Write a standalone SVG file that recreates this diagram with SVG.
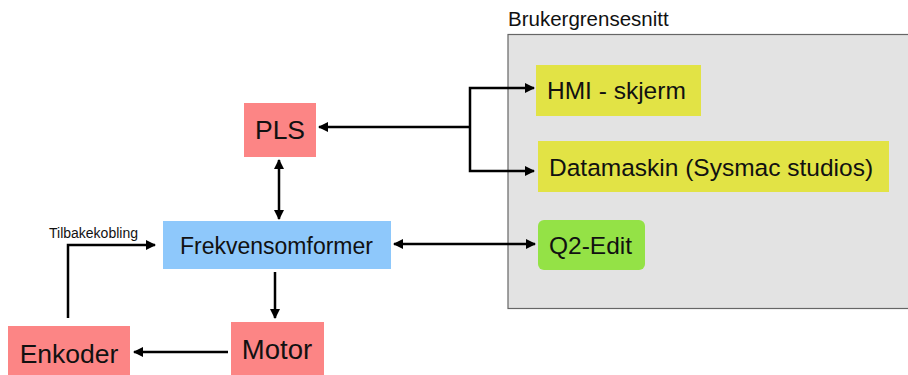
<svg xmlns="http://www.w3.org/2000/svg" width="908" height="375" viewBox="0 0 908 375">
  <style>
    text { font-family: "Liberation Sans", Arial, sans-serif; fill: #111; }
    .lbl { font-size: 24.5px; }
    .big { font-size: 26.5px; }
    .red { fill: #fc8585; }
    .yel { fill: #e2e345; }
    .line { stroke: #000; stroke-width: 2.5; fill: none; }
  </style>
  <defs>
    <marker id="arr" viewBox="0 0 10 10" refX="9" refY="5" markerWidth="4" markerHeight="4" orient="auto-start-reverse" markerUnits="strokeWidth">
      <path d="M0,0 L10,5 L0,10 Z" fill="#000"/>
    </marker>
  </defs>

  <!-- user interface panel -->
  <g id="ui-panel">
    <rect x="508" y="34.5" width="402" height="274" fill="#e3e3e3" stroke="#666" stroke-width="1.2"/>
    <text x="508" y="26" font-size="20.5">Brukergrensesnitt</text>
  </g>

  <g id="hmi">
    <rect class="yel" x="536" y="65" width="165" height="51"/>
    <text class="lbl" x="547" y="99">HMI - skjerm</text>
  </g>

  <g id="datamaskin">
    <rect class="yel" x="538" y="141" width="351" height="51"/>
    <text class="lbl" x="549" y="176">Datamaskin (Sysmac studios)</text>
  </g>

  <g id="q2edit">
    <rect x="538" y="220" width="107" height="50" rx="6" fill="#94e246"/>
    <text class="lbl" x="549" y="254">Q2-Edit</text>
  </g>

  <g id="pls">
    <rect class="red" x="244" y="103" width="72" height="54"/>
    <text class="big" x="280" y="139" text-anchor="middle">PLS</text>
  </g>

  <g id="frekvensomformer">
    <rect x="163" y="221" width="228" height="48" fill="#8ec8fb"/>
    <text x="180" y="254" font-size="23">Frekvensomformer</text>
  </g>

  <g id="motor">
    <rect class="red" x="231" y="322" width="93" height="55"/>
    <text x="277" y="359" font-size="27.5" text-anchor="middle">Motor</text>
  </g>

  <g id="enkoder">
    <rect class="red" x="8" y="326" width="122" height="51"/>
    <text class="big" x="69" y="363" text-anchor="middle">Enkoder</text>
  </g>

  <g id="connectors">
    <!-- UI branch to PLS -->
    <path class="line" d="M470,127 H319" marker-end="url(#arr)"/>
    <path class="line" d="M534,88 H470 V171 H534" marker-start="url(#arr)" marker-end="url(#arr)"/>
    <!-- PLS <-> Frekvensomformer -->
    <path class="line" d="M279,160 V219" marker-start="url(#arr)" marker-end="url(#arr)"/>
    <!-- Frekvensomformer <-> Q2-Edit -->
    <path class="line" d="M394,244 H535" marker-start="url(#arr)" marker-end="url(#arr)"/>
    <!-- Frekvensomformer to Motor -->
    <path class="line" d="M275,272 V318" marker-end="url(#arr)"/>
    <!-- Motor to Enkoder -->
    <path class="line" d="M228,352 H134" marker-end="url(#arr)"/>
    <!-- feedback -->
    <path class="line" d="M68,318 V245 H155" marker-end="url(#arr)"/>
    <text x="49" y="238" font-size="14">Tilbakekobling</text>
  </g>
</svg>
